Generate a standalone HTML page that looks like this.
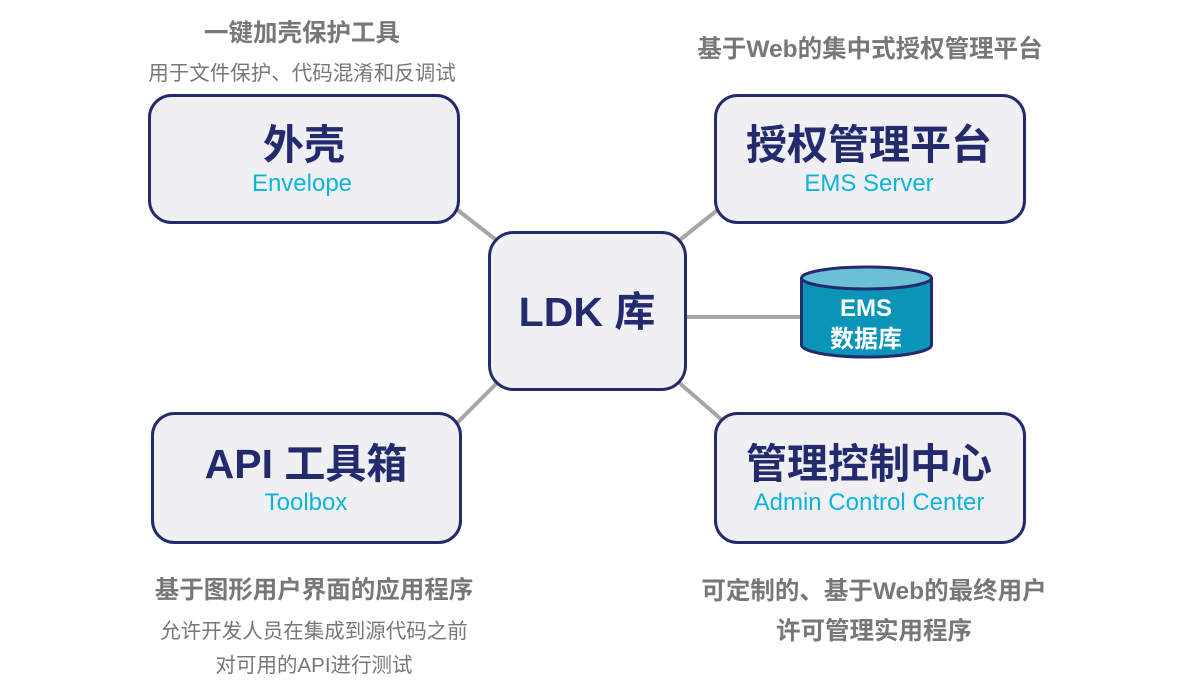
<!DOCTYPE html>
<html><head><meta charset="utf-8"><style>
body{margin:0;background:#fff}
svg text{font-family:"Liberation Sans","Noto Sans CJK SC",sans-serif}
</style></head><body>
<svg width="1200" height="690" viewBox="0 0 1200 690" xmlns="http://www.w3.org/2000/svg">
<g stroke="#a6a6a6" stroke-width="4">
<line x1="455" y1="208" x2="500" y2="243"/>
<line x1="676" y1="243" x2="720" y2="208"/>
<line x1="500" y1="380" x2="455" y2="425"/>
<line x1="676" y1="380" x2="722" y2="420"/>
<line x1="686" y1="317" x2="802" y2="317"/>
</g>
<g fill="#f0f0f2" stroke="#232a6e" stroke-width="3">
<rect x="149.5" y="95.5" width="309" height="127" rx="22"/>
<rect x="715.5" y="95.5" width="309" height="127" rx="22"/>
<rect x="489.5" y="232.5" width="196" height="157" rx="24"/>
<rect x="152.5" y="413.5" width="308" height="129" rx="22"/>
<rect x="715.5" y="413.5" width="309" height="129" rx="22"/>
</g>
<path d="M801.5 278 V345 A65 12 0 0 0 931.5 345 V278" fill="#0a95b8" stroke="#232a6e" stroke-width="3"/>
<ellipse cx="866.5" cy="278" rx="65" ry="11" fill="#6cc0d6" stroke="#232a6e" stroke-width="3"/>
<g text-anchor="middle" font-weight="bold" fill="#fff" font-size="24">
<text x="866" y="316">EMS</text><text x="866" y="347">数据库</text>
</g>
<g text-anchor="middle" font-weight="bold" fill="#232a6e" font-size="41">
<text x="304" y="159">外壳</text>
<text x="869" y="159">授权管理平台</text>
<text x="587" y="326">LDK 库</text>
<text x="306" y="478">API 工具箱</text>
<text x="869" y="478">管理控制中心</text>
</g>
<g text-anchor="middle" fill="#0ab4dc" font-size="24">
<text x="302" y="191">Envelope</text>
<text x="869" y="191">EMS Server</text>
<text x="306" y="510">Toolbox</text>
<text x="869" y="510">Admin Control Center</text>
</g>
<g text-anchor="middle" font-weight="bold" fill="#777" font-size="24.5">
<text x="302" y="41">一键加壳保护工具</text>
<text x="870" y="57">基于Web的集中式授权管理平台</text>
<text x="314" y="598">基于图形用户界面的应用程序</text>
<text x="874" y="599">可定制的、基于Web的最终用户</text>
<text x="874" y="639">许可管理实用程序</text>
</g>
<g text-anchor="middle" fill="#777" font-size="20.5">
<text x="302" y="80">用于文件保护、代码混淆和反调试</text>
<text x="314" y="638">允许开发人员在集成到源代码之前</text>
<text x="314" y="672">对可用的API进行测试</text>
</g>
</svg>
</body></html>
